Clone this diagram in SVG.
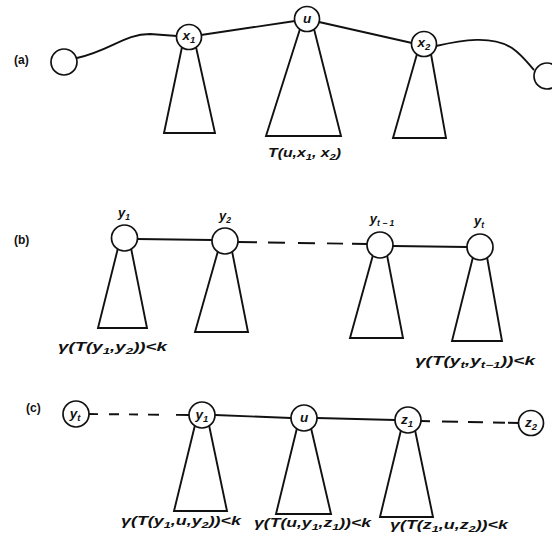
<svg xmlns="http://www.w3.org/2000/svg" width="552" height="535" viewBox="0 0 552 535">
  <style>
    .bg { fill: #ffffff; }
    .edge { fill: none; stroke: #111; stroke-width: 1.9; stroke-linecap: butt; }
    .tree { fill: none; stroke: #111; stroke-width: 1.9; stroke-linejoin: miter; }
    .vx { fill: #ffffff; stroke: #111; stroke-width: 1.7; }
    .lbl { font-family: "Liberation Sans", Arial, sans-serif; font-style: italic; font-weight: bold; font-size: 12px; fill: #111; }
    .top { font-size: 13px; }
    .in { font-family: "Liberation Sans", Arial, sans-serif; font-style: italic; font-weight: bold; font-size: 13.5px; fill: #111; text-anchor: middle; }
    .tag { font-family: "Liberation Sans", Arial, sans-serif; font-weight: bold; font-size: 12px; fill: #111; }
    .sub { font-size: 8.5px; }
    .in .sub { font-size: 9.5px; }
  </style>
  <rect class="bg" x="0" y="0" width="552" height="535"/>

  <!-- connectors -->
  <g id="connectors">
    <!-- (a) path -->
    <path class="edge" d="M77,58 C112,50 124,34 150,34 L177,36"/>
    <line class="edge" x1="201" y1="35" x2="295" y2="21"/>
    <line class="edge" x1="319" y1="22" x2="412" y2="43"/>
    <path class="edge" d="M436,46 C462,40 492,35 512,48 C522,55 527,62 534,70"/>
    <!-- (b) path -->
    <line class="edge" x1="137" y1="239" x2="212" y2="240"/>
    <line class="edge" x1="238" y1="242" x2="367" y2="244" stroke-dasharray="19 11 17 13 17 12 16 9 30"/>
    <line class="edge" x1="393" y1="246" x2="467" y2="247"/>
    <!-- (c) path -->
    <line class="edge" x1="89" y1="414" x2="189" y2="415" stroke-dasharray="9 11 10 10 9 10 11 17 30"/>
    <line class="edge" x1="215" y1="415" x2="291" y2="418"/>
    <line class="edge" x1="317" y1="418" x2="395" y2="420"/>
    <line class="edge" x1="421" y1="421" x2="519" y2="423" stroke-dasharray="9 12 16 10 15 10 12 3 20"/>
  </g>

  <!-- labels for the panels -->
  <text class="tag" x="14" y="64">(a)</text>
  <text class="tag" x="14" y="244">(b)</text>
  <text class="tag" x="26" y="412">(c)</text>

  <!-- (a) nodes -->
  <g id="a-left">
    <circle class="vx" cx="64" cy="62" r="13"/>
  </g>
  <g id="a-x1">
    <polygon class="tree" points="182,47 164,133 215,133 196,47"/>
    <circle class="vx" cx="189" cy="37" r="12.5"/>
    <text class="in" x="189" y="40">x<tspan class="sub" dy="3">1</tspan></text>
  </g>
  <g id="a-u">
    <polygon class="tree" points="300,29 266,136 341,136 314,29"/>
    <circle class="vx" cx="307" cy="19" r="12.5"/>
    <text class="in" x="307" y="23">u</text>
  </g>
  <g id="a-x2">
    <polygon class="tree" points="417,54 393,138 446,138 431,54"/>
    <circle class="vx" cx="424" cy="44" r="12.5"/>
    <text class="in" x="424" y="47">x<tspan class="sub" dy="3">2</tspan></text>
  </g>
  <g id="a-right">
    <circle class="vx" cx="547" cy="76" r="13"/>
  </g>
  <text class="lbl" x="268" y="157" font-size="13" textLength="73" lengthAdjust="spacingAndGlyphs">T(u,x<tspan class="sub" dy="3">1</tspan><tspan dy="-3">,  x</tspan><tspan class="sub" dy="3">2</tspan><tspan dy="-3">)</tspan></text>

  <!-- (b) nodes -->
  <g id="b-y1">
    <polygon class="tree" points="118,248 98,328 147,328 131,248"/>
    <circle class="vx" cx="124.5" cy="238" r="13"/>
    <text class="lbl top" x="124" y="217" text-anchor="middle">y<tspan class="sub" dy="3">1</tspan></text>
  </g>
  <g id="b-y2">
    <polygon class="tree" points="218,251 195,332 248,332 232,251"/>
    <circle class="vx" cx="225" cy="241" r="13"/>
    <text class="lbl top" x="225" y="220" text-anchor="middle">y<tspan class="sub" dy="3">2</tspan></text>
  </g>
  <g id="b-yt1">
    <polygon class="tree" points="373,255 350,338 403,338 387,255"/>
    <circle class="vx" cx="380" cy="245" r="13"/>
    <text class="lbl top" x="382" y="223" text-anchor="middle">y<tspan class="sub" dy="3">t − 1</tspan></text>
  </g>
  <g id="b-yt">
    <polygon class="tree" points="473,257 452,341 502,341 487,257"/>
    <circle class="vx" cx="480" cy="247" r="13"/>
    <text class="lbl top" x="479" y="225" text-anchor="middle">y<tspan class="sub" dy="3">t</tspan></text>
  </g>
  <text class="lbl" x="58" y="351" textLength="109" lengthAdjust="spacingAndGlyphs">γ(T(y<tspan class="sub" dy="3">1</tspan><tspan dy="-3">,y</tspan><tspan class="sub" dy="3">2</tspan><tspan dy="-3">))&lt;k</tspan></text>
  <text class="lbl" x="415" y="365" textLength="120" lengthAdjust="spacingAndGlyphs">γ(T(y<tspan class="sub" dy="3">t</tspan><tspan dy="-3">,y</tspan><tspan class="sub" dy="3">t−1</tspan><tspan dy="-3">))&lt;k</tspan></text>

  <!-- (c) nodes -->
  <g id="c-yt">
    <circle class="vx" cx="76" cy="414" r="13"/>
    <text class="in" x="75" y="418">y<tspan class="sub" dy="3">t</tspan></text>
  </g>
  <g id="c-y1">
    <polygon class="tree" points="195,425 174,511 227,511 209,425"/>
    <circle class="vx" cx="202" cy="415" r="13"/>
    <text class="in" x="202" y="419">y<tspan class="sub" dy="3">1</tspan></text>
  </g>
  <g id="c-u">
    <polygon class="tree" points="297,428 276,514 331,514 311,428"/>
    <circle class="vx" cx="304" cy="418" r="13"/>
    <text class="in" x="304" y="422">u</text>
  </g>
  <g id="c-z1">
    <polygon class="tree" points="401,430 380,517 433,517 415,430"/>
    <circle class="vx" cx="408" cy="420" r="13"/>
    <text class="in" x="407" y="424">z<tspan class="sub" dy="3">1</tspan></text>
  </g>
  <g id="c-z2">
    <circle class="vx" cx="531" cy="423" r="12.5"/>
    <text class="in" x="531" y="427">z<tspan class="sub" dy="3">2</tspan></text>
  </g>
  <text class="lbl" x="121" y="525" textLength="120" lengthAdjust="spacingAndGlyphs">γ(T(y<tspan class="sub" dy="3">1</tspan><tspan dy="-3">,u,y</tspan><tspan class="sub" dy="3">2</tspan><tspan dy="-3">))&lt;k</tspan></text>
  <text class="lbl" x="254" y="527" textLength="117" lengthAdjust="spacingAndGlyphs">γ(T(u,y<tspan class="sub" dy="3">1</tspan><tspan dy="-3">,z</tspan><tspan class="sub" dy="3">1</tspan><tspan dy="-3">))&lt;k</tspan></text>
  <text class="lbl" x="390" y="529" textLength="118" lengthAdjust="spacingAndGlyphs">γ(T(z<tspan class="sub" dy="3">1</tspan><tspan dy="-3">,u,z</tspan><tspan class="sub" dy="3">2</tspan><tspan dy="-3">))&lt;k</tspan></text>
</svg>
